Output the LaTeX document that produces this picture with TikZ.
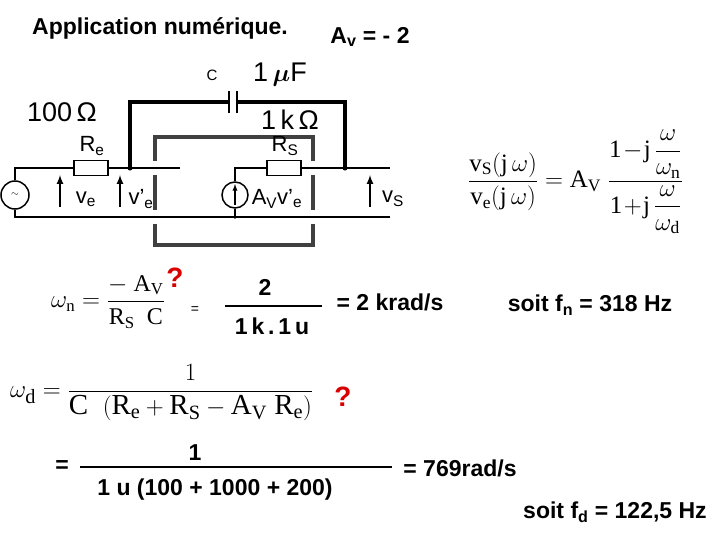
\documentclass[tikz,border=0pt]{standalone}
\usepackage{amsmath}
\usepackage{fontspec}
\setmainfont{Liberation Sans}
\setmathrm{Liberation Serif}
\newfontfamily\serf{Liberation Serif}
\begin{document}
\begin{tikzpicture}[x=1pt,y=-1pt,
 w/.style={line width=1.5pt},
 thk/.style={line width=3.2pt},
 gbox/.style={line width=3.2pt,draw=black!75},
 res/.style={draw,line width=1.5pt,fill=white,minimum width=34pt,minimum height=15pt,inner sep=0},
 dot/.style={circle,fill,inner sep=1.8pt},
 lbl/.style={font=\fontsize{27}{27}\selectfont,inner sep=0},
 bt/.style={font=\bfseries\fontsize{23}{23}\selectfont,inner sep=0},
 sf/.style={font=\serf\fontsize{24}{24}\selectfont,inner sep=0},
 qm/.style={font=\bfseries\fontsize{28}{28}\selectfont,text=red!85!black,inner sep=0},
 arr/.style={line width=2pt,-latex}]
\useasboundingbox (0,0) rectangle (720,540);
\node[bt] (title) at (160,28) {Application numérique.};
\node[bt] (av) at (370,37) {A\textsubscript{v} = - 2};
% circuit
\node[circle,draw,line width=1.5pt,minimum size=28pt,inner sep=0] (src) at (15,195) {$\sim$};
\node[res] (re) at (91,168) {};
\node[res] (rs) at (284,168) {};
\node[circle,draw,line width=1.5pt,minimum size=26pt,inner sep=0] (cs) at (235,195) {};
\coordinate (n1) at (130,168);
\coordinate (n2) at (345,168);
\draw[w] (src.north) |- (re.west);
\draw[w] (re.east) -- (180,168);
\draw[w] (src.south) |- (390,217);
\draw[w] (rs.west) -- (235,168) -- (cs.north);
\draw[w] (cs.south) -- (235,217);
\draw[w] (rs.east) -- (390,168);
\node[dot] at (n1) {}; \node[dot] at (n2) {}; \node[dot,inner sep=1.3pt] at (235,217) {};
\draw[arr,line width=1.3pt] (235,205) -- (235,184);
\draw[thk] (n1) -- (130,102) -- (229,102);
\draw[thk] (237,102) -- (345,102) -- (n2);
\draw[line width=2.2pt] (229,91) -- (229,113) (237,91) -- (237,113);
\draw[gbox] (155,161) -- (155,137) -- (313,137) -- (313,161);
\draw[gbox] (155,175) -- (155,210) (313,175) -- (313,210);
\draw[gbox] (155,224) -- (155,245) -- (313,245) -- (313,224);
\draw[arr] (60,207) -- (60,175);
\draw[arr] (120,207) -- (120,175);
\draw[arr] (370,207) -- (370,175);
\node[lbl] (l100) at (62,112) {100\,Ω};
\node[lbl,font=\fontsize{22}{22}\selectfont] (lre) at (92,146) {R\textsubscript{e}};
\node[lbl,font=\fontsize{22}{22}\selectfont] (lve) at (86,199) {v\textsubscript{e}};
\node[lbl,font=\fontsize{22}{22}\selectfont] (lvp) at (141,199) {v'\textsubscript{e}};
\node[lbl,font=\fontsize{15}{15}\selectfont] (lc) at (212,75) {C};
\node[lbl] (luf) at (280,75) {1\,$\boldsymbol{\mu}$F};
\node[lbl] (l1k) at (290,120) {1\,k\,Ω};
\node[lbl,font=\fontsize{22}{22}\selectfont] (lrs) at (285,146) {R\textsubscript{S}};
\node[lbl,font=\fontsize{22}{22}\selectfont] (lav) at (277,199) {A\textsubscript{V}v'\textsubscript{e}};
\node[lbl,font=\fontsize{22}{22}\selectfont] (lvs) at (393,199) {v\textsubscript{S}};
% transfer function
\node[sf,anchor=west,font=\serf\fontsize{25}{25}\selectfont] (tf) at (468,182) {$\dfrac{\mathrm{v_S(j\,\omega)}}{\mathrm{v_e(j\,\omega)}} = \mathrm{A_V}\;\dfrac{\mathrm{1\!-\!j}\,\dfrac{\omega}{\omega_\mathrm{n}}\rule[-12pt]{0pt}{1pt}}{\rule{0pt}{28pt}\mathrm{1\!+\!j}\,\dfrac{\omega}{\omega_\mathrm{d}}}$};
% wn
\node[sf] (wn) at (108,302) {$\omega_\mathrm{n} = \dfrac{\mathrm{-\ A_V}}{\mathrm{R_S\ \ C}}$};
\node[sf,font=\fontsize{14}{14}\selectfont] (eq1) at (195,310) {=};
\node[bt] (num2) at (265,287) {2};
\node[bt] (den2) at (272,326) {1\,k\,.\,1\,u};
\draw[line width=1.2pt] (225,306) -- (322,306);
\node[bt] (kr) at (390,302) {= 2 krad/s};
\node[bt] (fn) at (590,305) {soit f\textsubscript{n} = 318 Hz};
\node[qm] (q1) at (175,278) {?};
% wd
\node[sf,anchor=west,font=\serf\fontsize{29}{29}\selectfont] (wd) at (10,393) {$\omega_\mathrm{d} = \dfrac{1}{\mathrm{C\ \ (R_e + R_S - A_V\ R_e)}}$};
\node[qm] (q2) at (343,397) {?};
\node[bt] (eq2) at (62,467) {=};
\node[bt] (n1b) at (195,453) {1};
\draw[line width=1.2pt] (80,467) -- (392,467);
\node[bt] (d1b) at (215,490) {1 u (100 + 1000  + 200)};
\node[bt] (r769) at (460,468) {= 769rad/s};
\node[bt] (fd) at (615,512) {soit f\textsubscript{d} = 122,5 Hz};
\end{tikzpicture}
\end{document}
